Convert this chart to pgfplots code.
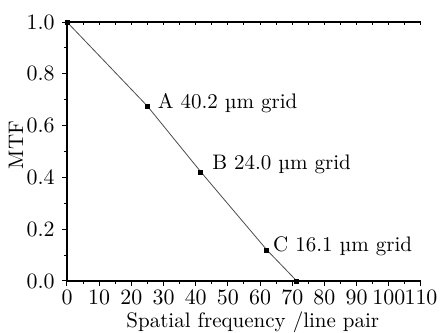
\documentclass[border=0pt]{standalone}
\usepackage{pgfplots}
\pgfplotsset{compat=1.18}
\begin{document}
\fontsize{10.5}{12}\selectfont
\begin{tikzpicture}
\useasboundingbox (-33.5pt,-26pt) rectangle (187pt,140.5pt);
\begin{axis}[name=main,
  at={(0,0)}, anchor=south west,
  scale only axis, width=177pt, height=129.5pt,
  xmin=0, xmax=110, ymin=0, ymax=1,
  axis x line*=bottom, axis y line*=left,
  axis line style={-, line width=0.6pt},
  xtick={0,10,...,110}, minor x tick num=1,
  ytick={0,0.2,0.4,0.6,0.8,1.0}, minor y tick num=1,
  tick align=outside,
  major tick length=2.5pt, minor tick length=1.5pt,
  tick style={line width=0.5pt, black},
  ticklabel style={font=\fontsize{10.5}{12}\selectfont},
  xticklabel style={inner xsep=1pt, inner ysep=2pt},
  yticklabel style={/pgf/number format/fixed, /pgf/number format/fixed zerofill, /pgf/number format/precision=1},
  xlabel={Spatial frequency /line pair},
  ylabel={MTF},
  label style={font=\fontsize{10.5}{12}\selectfont},
  xlabel style={at={(axis description cs:0.525,0)}, anchor=base, yshift=-23.5pt},
  ylabel style={at={(axis description cs:0,0.525)}, anchor=center, yshift=25.5pt},
  clip=false,
]
\addplot[gray!60!black, line width=0.4pt, mark=square*, mark size=1pt, mark options={black, solid}]
  coordinates {(0,1) (25,0.675) (41.6,0.421) (62.1,0.12) (71.4,0)};
\node[anchor=base west, inner sep=0pt, xshift=5pt, yshift=-1pt] at (axis cs:25,0.675) {A 40.2 \textmu m grid};
\node[anchor=base west, inner sep=0pt, xshift=5.5pt, yshift=1.3pt] at (axis cs:41.6,0.421) {B 24.0 \textmu m grid};
\node[anchor=base west, inner sep=0pt, xshift=3pt, yshift=-1pt] at (axis cs:62.1,0.12) {C 16.1 \textmu m grid};
\end{axis}
\begin{axis}[
  at={(0,0)}, anchor=south west,
  scale only axis, width=177pt, height=129.5pt,
  xmin=0, xmax=110, ymin=0, ymax=1,
  axis x line*=top, axis y line=none,
  axis line style={-, line width=0.6pt},
  xtick={0,10,...,110}, minor x tick num=1, xticklabels={},
  ytick=\empty,
  tick align=inside,
  major tick length=1.6pt, minor tick length=1.6pt,
  tick style={line width=0.5pt, black},
]
\end{axis}
\end{tikzpicture}
\end{document}
